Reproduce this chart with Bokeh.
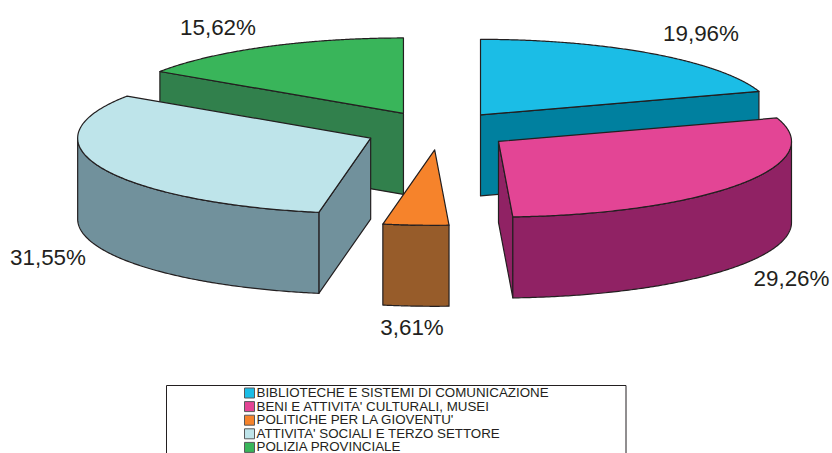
import numpy as np
from bokeh.plotting import figure
from bokeh.embed import file_html
from bokeh.resources import INLINE
from bokeh.core.properties import value

# ---- data
categories = ["BIBLIOTECHE E SISTEMI DI COMUNICAZIONE",
              "BENI E ATTIVITA' CULTURALI, MUSEI",
              "POLITICHE PER LA GIOVENTU'",
              "ATTIVITA' SOCIALI E TERZO SETTORE",
              "POLIZIA PROVINCIALE"]
shares = [19.96, 29.26, 3.61, 31.55, 15.62]
share_labels = ["19,96%", "29,26%", "3,61%", "31,55%", "15,62%"]

# ---- style / layout
top_colors = ["#1BBDE6", "#E34595", "#F6832B", "#BEE4EA", "#39B55A"]
side_colors = ["#00809F", "#902264", "#975C2A", "#71919C", "#31804C"]
INK = "#231F20"
FONT = "Liberation Sans"
CX, CY = 437.0, 130.0          # pie centre, page pixels
RX, RY = 293.0, 75.5           # ellipse radii
DEPTH = 81.0                   # extrusion height
EXPLODE = 75.0                 # radial explosion
NUDGE_X = [-1.0, -0.8, 2.0, 2.2, 1.3]
LABEL_XY = [(700.5, 33), (791, 278), (411.5, 327), (47.5, 257), (217.5, 27)]
DRAW_ORDER = [0, 4, 3, 2, 1]

p = figure(width=832, height=453, x_range=(0, 832), y_range=(453, 0),
           output_backend="svg", toolbar_location=None, min_border=0)
p.axis.visible = False
p.grid.visible = False
p.outline_line_color = None


def rim(ax, ay, theta):
    return ax + RX * np.sin(theta), ay - RY * np.cos(theta)


def face(xs, ys, color):
    p.patch(list(xs), list(ys), fill_color=color, line_color=INK,
            line_width=1.2, line_join="round")


edges = np.radians(np.concatenate([[0], np.cumsum(shares)]) * 3.6)

for i in DRAW_ORDER:
    a, b = edges[i], edges[i + 1]
    mid = (a + b) / 2
    ax = CX + EXPLODE * np.sin(mid) + NUDGE_X[i]
    ay = CY - EXPLODE * (RY / RX) * np.cos(mid)

    # radial walls that face the viewer
    for theta, visible in ((a, np.sin(a) < 0), (b, np.sin(b) > 0)):
        if visible:
            rx_, ry_ = rim(ax, ay, theta)
            face([ax, rx_, rx_, ax], [ay, ry_, ry_ + DEPTH, ay + DEPTH], side_colors[i])

    # curved outer wall (front half only)
    lo, hi = max(a, np.pi / 2), min(b, 3 * np.pi / 2)
    if lo < hi:
        t = np.linspace(lo, hi, 160)
        ex, ey = rim(ax, ay, t)
        face(np.r_[ex, ex[::-1]], np.r_[ey, (ey + DEPTH)[::-1]], side_colors[i])

    # top face
    t = np.linspace(a, b, 200)
    ex, ey = rim(ax, ay, t)
    face(np.r_[ax, ex], np.r_[ay, ey], top_colors[i])

# percentage labels
p.text([xy[0] for xy in LABEL_XY], [xy[1] for xy in LABEL_XY], text=share_labels,
       text_font=value(FONT), text_font_size="22.4px", text_color=INK,
       text_align="center", text_baseline="middle")

# legend box (runs past the bottom of the picture)
p.quad(left=[166], right=[625.5], top=[385], bottom=[470],
       fill_color="white", line_color=INK, line_width=1)

row = 13.6
n = len(categories)
ys = [392.5 + row * k for k in range(n)]
p.rect([249] * n, ys, width=10, height=10, fill_color=top_colors,
       line_color="#58595B", line_width=1)
p.text([256] * n, [y - 0.5 for y in ys], text=categories,
       text_font=value(FONT), text_font_size="13.35px", text_color=INK,
       text_align="left", text_baseline="middle")

open("out.html", "w").write(file_html(p, INLINE))
